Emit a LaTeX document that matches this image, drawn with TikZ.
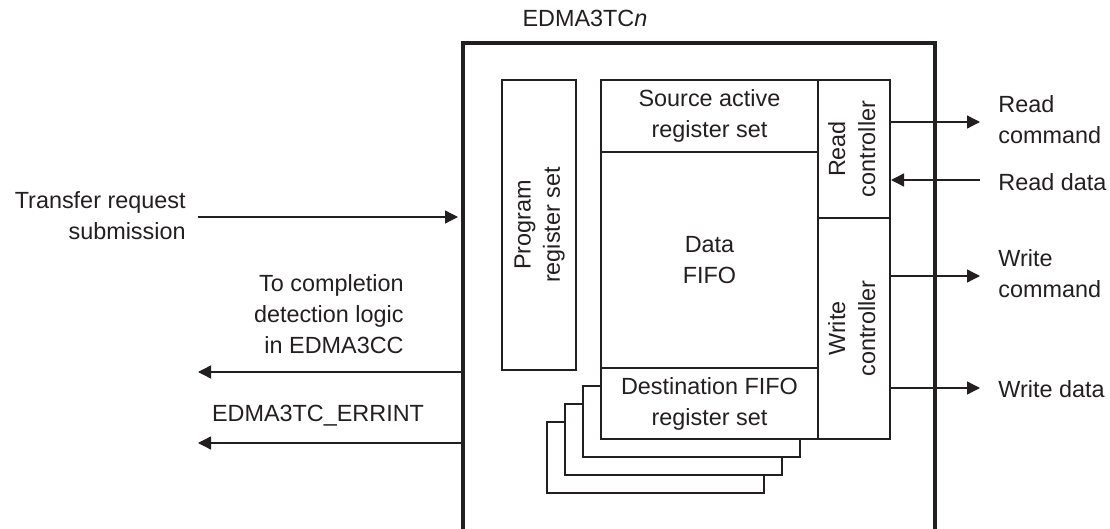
\documentclass[tikz,border=0pt]{standalone}
\usepackage{fontspec}
\setmainfont{Liberation Sans}
\usetikzlibrary{arrows.meta}
\definecolor{ink}{HTML}{231F20}
\tikzset{
  box/.style={draw=ink, line width=1pt, rectangle, inner sep=0pt, fill=white, align=center, text=ink},
  arr/.style={draw=ink, line width=0.65pt, -{Triangle[length=6.5pt,width=6.5pt]}},
  lbl/.style={text=ink, inner sep=0pt, font=\fontsize{11.7pt}{15.5pt}\selectfont},
}
\begin{document}
\begin{tikzpicture}[x=0.5pt,y=-0.5pt, every node/.append style={font=\fontsize{11.7pt}{15.5pt}\selectfont}]
\useasboundingbox (0,0) rectangle (1110,529);
% outer box (open at bottom)
\draw[ink, line width=1.6pt] (463,540) -- (463,43) -- (935,43) -- (935,540);
\node[lbl] (title) at (585,18) {EDMA3TC\textit{n}};
% stacked destination sets
\foreach \k in {3,2,1}{
  \draw[ink, line width=1pt, fill=white] (601-18*\k,368+18*\k) rectangle (818-18*\k,439+18*\k);
}
% boxes
\node[box, minimum width=37pt, minimum height=145pt] (prog) at (539,225)
  {\rotatebox{90}{\begin{tabular}{c}Program\\[-0.8pt]register set\end{tabular}}};
\node[box, minimum width=108.5pt, minimum height=36pt] (src) at (709.5,116) {Source active\\register set};
\node[box, minimum width=108.5pt, minimum height=108pt] (fifo) at (709.5,260) {Data\\FIFO};
\node[box, minimum width=108.5pt, minimum height=35.5pt] (dst) at (709.5,403.5) {Destination FIFO\\register set};
\node[box, minimum width=36pt, minimum height=69pt] (rc) at (854,149)
  {\rotatebox{90}{\begin{tabular}{c}Read\\[-0.5pt]controller\end{tabular}}};
\node[box, minimum width=36pt, minimum height=110.5pt] (wc) at (854,328.5)
  {\rotatebox{90}{\begin{tabular}{c}Write\\[-0.5pt]controller\end{tabular}}};
% right side
\coordinate (rcmd) at (980,122);
\coordinate (rdat) at (980,180);
\coordinate (wcmd) at (980,276);
\coordinate (wdat) at (980,388);
\draw[arr] (rc.east |- rcmd) -- (rcmd);
\draw[arr] (rdat) -- (rc.east |- rdat);
\draw[arr] (wc.east |- wcmd) -- (wcmd);
\draw[arr] (wc.east |- wdat) -- (wdat);
\node[lbl, anchor=west, align=left] (lrcmd) at (998,120) {Read\\command};
\node[lbl, anchor=west] (lrdat) at (998,182) {Read data};
\node[lbl, anchor=west, align=left] (lwcmd) at (998,274) {Write\\command};
\node[lbl, anchor=west] (lwdat) at (998,389) {Write data};
% left side
\coordinate (tin0) at (198,217);
\coordinate (tin1) at (458,217);
\coordinate (cmp0) at (463,372);
\coordinate (cmp1) at (198,372);
\coordinate (err0) at (463,443);
\coordinate (err1) at (198,443);
\draw[arr] (tin0) -- (tin1);
\draw[arr] (cmp0) -- (cmp1);
\draw[arr] (err0) -- (err1);
\node[lbl, anchor=east, align=right] (ltin) at (186,216) {Transfer request\\submission};
\node[lbl, anchor=east, align=right] (lcmp) at (404,314) {To completion\\detection logic\\in EDMA3CC};
\node[lbl] (lerr) at (318,416) {EDMA3TC\_ERRINT};
\end{tikzpicture}
\end{document}
